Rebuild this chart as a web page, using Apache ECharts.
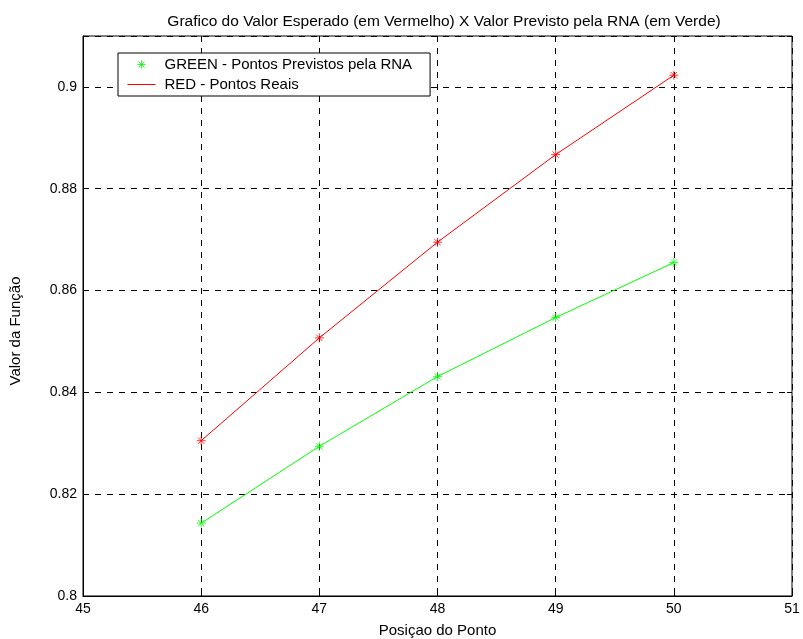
<!DOCTYPE html>
<html>
<head>
<meta charset="utf-8">
<script src="https://cdn.jsdelivr.net/npm/echarts@6/dist/echarts.min.js"></script>
<style>
  html, body { margin: 0; padding: 0; background: #fff; }
  #main { width: 803px; height: 639px; }
</style>
</head>
<body>
<div id="main"></div>
<script>
  // dados
  const posicoes = [46, 47, 48, 49, 50]
  const valoresReais = [0.8305, 0.8507, 0.8695, 0.8867, 0.9023]
  const valoresPrevistos = [0.8143, 0.8294, 0.8431, 0.8547, 0.8655]
  const xTicks = [45, 46, 47, 48, 49, 50, 51]
  const yTicks = [0.8, 0.82, 0.84, 0.86, 0.88, 0.9]

  const fonte = 'Liberation Sans, Arial, sans-serif'
  const asterisco = 'path://M0,-5L0,5M-5,0L5,0M-3.5,-3.5L3.5,3.5M-3.5,3.5L3.5,-3.5'
  // icones da legenda: pontos M soltos so marcam a caixa 28x14
  const iconeVerde = 'path://M-14,-7L-14,-7M14,7L14,7M0,-4L0,4M-4,0L4,0M-3,-3L3,3M-3,3L3,-3'
  const iconeVermelho = 'path://M0,0L0,0M28,14L28,14M0,7L28,7'

  const pares = (ys) => posicoes.map((x, i) => [x, ys[i]])

  const yLabel = (v) => (yTicks.some((t) => Math.abs(t - v) < 1e-6) ? String(+v.toFixed(2)) : '')

  const chart = echarts.init(document.getElementById('main'), null, { renderer: 'canvas' })

  const grade = { show: true, lineStyle: { color: '#000', type: [6, 6], width: 1 } }
  const tick = { show: true, inside: true, length: 5, lineStyle: { color: '#000' } }

  chart.setOption({
    animation: false,
    backgroundColor: '#fff',
    title: {
      text: 'Grafico do Valor Esperado (em Vermelho) X Valor Previsto pela RNA (em Verde)',
      left: 439,
      textAlign: 'center',
      top: 9,
      textStyle: { fontFamily: fonte, fontSize: 15.5, fontWeight: 'normal', color: '#000' },
    },
    legend: {
      orient: 'vertical',
      left: 118,
      top: 53,
      padding: [4, 18, 4, 9],
      itemGap: 5,
      itemWidth: 28,
      itemHeight: 14,
      backgroundColor: '#fff',
      borderColor: '#000',
      borderWidth: 1,
      textStyle: { fontFamily: fonte, fontSize: 15, color: '#000', padding: [0, 0, 0, 4] },
      data: [
        {
          name: 'GREEN - Pontos Previstos pela RNA',
          icon: iconeVerde,
          itemStyle: { color: 'rgba(0,0,0,0)', borderColor: '#00ff00', borderWidth: 1 },
        },
        {
          name: 'RED - Pontos Reais',
          icon: iconeVermelho,
          itemStyle: { color: 'rgba(0,0,0,0)', borderColor: '#ff0000', borderWidth: 1 },
        },
      ],
    },
    grid: {
      left: 83,
      right: 11,
      top: 36,
      bottom: 43,
      show: true,
      borderColor: '#000',
      borderWidth: 1,
      containLabel: false,
      outerBoundsMode: 'none',
    },
    xAxis: [
      {
        type: 'value',
        min: xTicks[0],
        max: xTicks[xTicks.length - 1],
        interval: 1,
        name: 'Posiçao do Ponto',
        nameLocation: 'middle',
        nameGap: 27,
        nameTextStyle: { fontFamily: fonte, fontSize: 15, color: '#000' },
        axisLine: { show: true, lineStyle: { color: '#000' } },
        axisTick: tick,
        axisLabel: { fontFamily: fonte, fontSize: 14, color: '#000', margin: 6 },
        splitLine: grade,
      },
      {
        type: 'value',
        position: 'top',
        min: xTicks[0],
        max: xTicks[xTicks.length - 1],
        interval: 1,
        axisLine: { show: false },
        axisTick: tick,
        axisLabel: { show: false },
        splitLine: { show: false },
      },
    ],
    yAxis: [
      {
        type: 'value',
        min: 0.8,
        max: 0.91,
        interval: 0.02,
        name: 'Valor da Função',
        nameLocation: 'middle',
        nameRotate: 90,
        nameGap: 60,
        nameTextStyle: { fontFamily: fonte, fontSize: 15, color: '#000', padding: [0, 30, 0, 0] },
        axisLine: { show: true, lineStyle: { color: '#000' } },
        axisTick: tick,
        axisLabel: { fontFamily: fonte, fontSize: 14, color: '#000', margin: 6, formatter: yLabel },
        splitLine: grade,
      },
      {
        type: 'value',
        position: 'right',
        min: 0.8,
        max: 0.91,
        interval: 0.02,
        axisLine: { show: false },
        axisTick: tick,
        axisLabel: { show: false },
        splitLine: { show: false },
      },
    ],
    series: [
      {
        name: 'linha verde',
        type: 'line',
        data: pares(valoresPrevistos),
        symbol: 'none',
        lineStyle: { color: '#00ff00', width: 1 },
        itemStyle: { color: '#00ff00' },
      },
      {
        name: 'GREEN - Pontos Previstos pela RNA',
        type: 'scatter',
        data: pares(valoresPrevistos),
        symbol: asterisco,
        symbolSize: 9,
        itemStyle: { color: 'rgba(0,0,0,0)', borderColor: '#00ff00', borderWidth: 1 },
      },
      {
        name: 'RED - Pontos Reais',
        type: 'line',
        data: pares(valoresReais),
        symbol: 'none',
        lineStyle: { color: '#ff0000', width: 1 },
        itemStyle: { color: '#ff0000' },
      },
      {
        name: 'marcas vermelhas',
        type: 'scatter',
        data: pares(valoresReais),
        symbol: asterisco,
        symbolSize: 9,
        itemStyle: { color: 'rgba(0,0,0,0)', borderColor: '#ff0000', borderWidth: 1 },
      },
    ],
  })
</script>
</body>
</html>
